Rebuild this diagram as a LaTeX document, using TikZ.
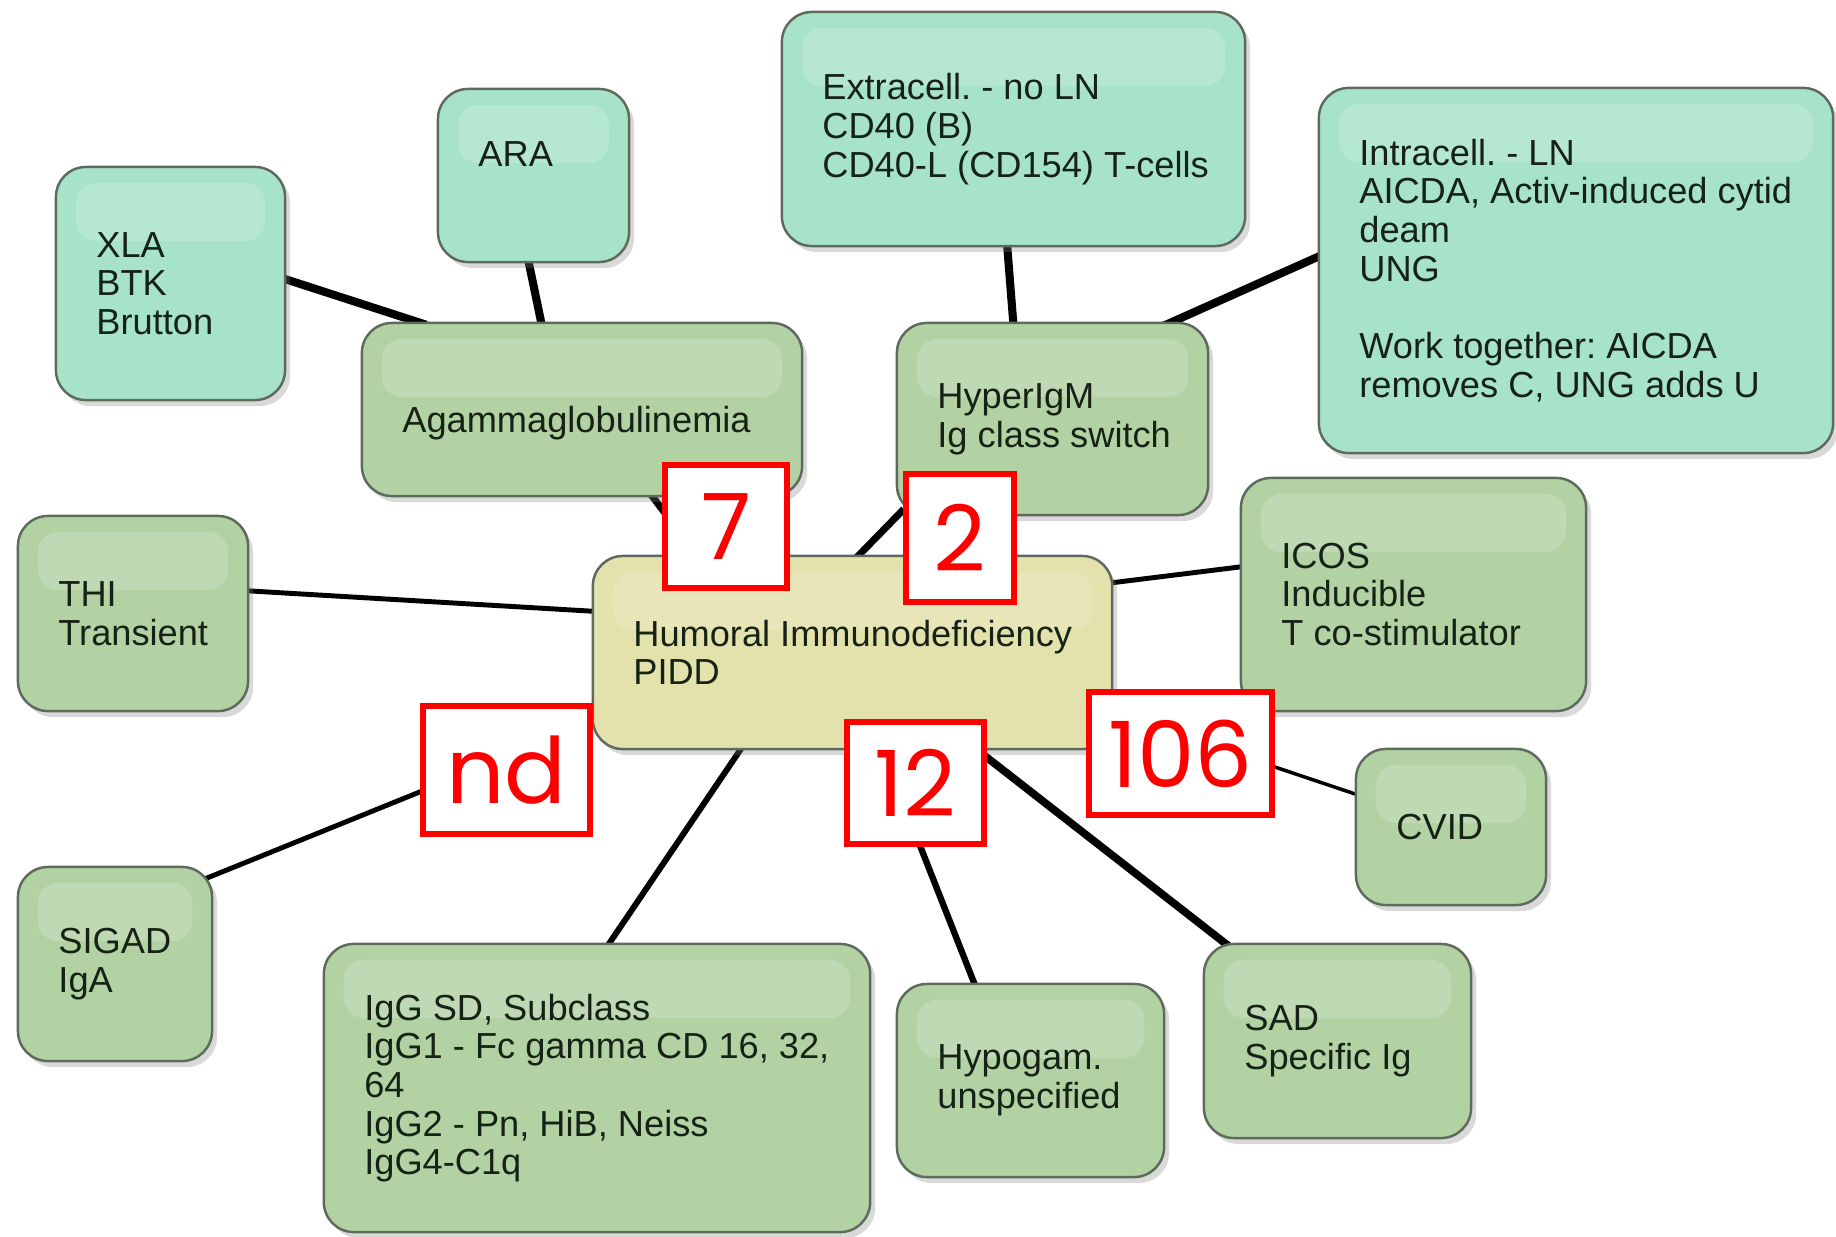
\documentclass[tikz,border=0pt]{standalone}
\usepackage{fontspec}
\setmainfont{Liberation Sans}
\newfontfamily\countfont{Poppins}
\usepackage{tikz}
\usetikzlibrary{positioning,shadows,backgrounds}
\frenchspacing

\definecolor{mapteal}{RGB}{166,227,201}
\definecolor{mapgreen}{RGB}{178,210,164}
\definecolor{mapyellow}{RGB}{228,226,172}
\definecolor{mapborder}{RGB}{94,106,94}
\definecolor{maptext}{RGB}{22,34,22}

\begin{document}
\begin{tikzpicture}[x=0.01cm,y=-0.01cm,
			every edge/.style={draw,black,shorten <=-0.1cm,shorten >=-0.1cm}]
			\tikzstyle{mapbox}=[draw=mapborder,line width=0.7pt,rounded corners=0.3cm,inner sep=0pt,
				drop shadow={shadow xshift=0.05cm,shadow yshift=-0.06cm,opacity=0.3},
				path picture={\fill[white,opacity=0.17,rounded corners=0.2cm]
					([xshift=0.2cm,yshift=-0.16cm]path picture bounding box.north west) rectangle
					([xshift=-0.2cm,yshift=-0.74cm]path picture bounding box.north east);}]
			\tikzstyle{tealbox}=[mapbox,fill=mapteal]
			\tikzstyle{greenbox}=[mapbox,fill=mapgreen]
			\tikzstyle{centerbox}=[mapbox,fill=mapyellow]
			\tikzstyle{every label}=[anchor=west,xshift=0.41cm,align=left,inner sep=0pt,text=maptext,
				font=\fontsize{10.3}{11}\selectfont]
			\tikzstyle{count}=[draw=red,line width=1.7pt,fill=white,text=red,inner sep=0pt,
				font=\countfont\fontsize{26}{26}\selectfont]
			
			\useasboundingbox (0,0) rectangle (1836,1236);
			
			\node[centerbox, minimum width=5.19cm, minimum height=1.93cm,
				label={west:Humoral Immunodeficiency\\PIDD}]    (PIDD) at (852.5,652.5) {};
			
			\node[greenbox, minimum width=4.40cm, minimum height=1.73cm,
				label={[yshift=-0.14cm]west:Agammaglobulinemia}]    (Agam) at (582,409.5) {};
			
			\node[tealbox, minimum width=2.29cm, minimum height=2.33cm,
				label={west:XLA\\BTK\\Brutton}]    (XLA) at (170.5,283.5) {};
			
			\node[tealbox, minimum width=1.91cm, minimum height=1.73cm,
				label={[yshift=0.21cm]west:ARA}]    (ARA) at (533.5,175.5) {};
			
			\node[greenbox, minimum width=3.11cm, minimum height=1.92cm,
				label={west:HyperIgM\\Ig class switch}]    (Hyper) at (1052.5,419) {};
			
			\node[tealbox, minimum width=4.63cm, minimum height=2.34cm,
				label={west:Extracell. - no LN\\CD40 (B)\\CD40-L (CD154) T-cells}]    (Extra) at (1013.5,129) {};
			
			\node[tealbox, minimum width=5.14cm, minimum height=3.65cm,
				label={west:Intracell. - LN\\AICDA, Activ-induced cytid\\deam\\UNG\\[11pt]Work together: AICDA\\removes C, UNG adds U}]    (Intra) at (1576,270.5) {};
			
			\node[greenbox, minimum width=2.30cm, minimum height=1.95cm,
				label={west:THI\\Transient}]    (THI) at (133,613.5) {};
			
			\node[greenbox, minimum width=3.45cm, minimum height=2.33cm,
				label={west:ICOS\\Inducible\\T co-stimulator}]    (ICOS) at (1413.5,594.5) {};
			
			\node[greenbox, minimum width=1.90cm, minimum height=1.56cm,
				label={west:CVID}]    (CVID) at (1451,827) {};
			
			\node[greenbox, minimum width=1.94cm, minimum height=1.94cm,
				label={west:SIGAD\\IgA}]    (SIGAD) at (115,964) {};
			
			\node[greenbox, minimum width=5.46cm, minimum height=2.88cm,
				label={west:IgG SD, Subclass\\IgG1 - Fc gamma CD 16, 32,\\64\\IgG2 - Pn, HiB, Neiss\\IgG4-C1q}]    (IgG) at (597,1088) {};
			
			\node[greenbox, minimum width=2.67cm, minimum height=1.93cm,
				label={west:Hypogam.\\unspecified}]    (Hypo) at (1030.5,1080.5) {};
			
			\node[greenbox, minimum width=2.67cm, minimum height=1.94cm,
				label={west:SAD\\Specific Ig}]    (SAD) at (1337.5,1041) {};
			
			\begin{scope}[on background layer]
			\path
			(XLA.2) edge[line width=2.3pt] (Agam.152)
			(ARA.267) edge[line width=2.3pt] (Agam.115)
			(Extra.267) edge[line width=2.3pt] (Hyper.112)
			(Intra.177) edge[line width=2.3pt] (Hyper.39)
			(Agam.309) edge[line width=2pt] (PIDD.148)
			(Hyper.212) edge[line width=2pt] (PIDD.86)
			(THI.11) edge[line width=1.4pt] (PIDD.171)
			(ICOS.171) edge[line width=1.4pt] (PIDD.15)
			(CVID.161) edge[line width=1pt] (PIDD.347)
			(SAD.139) edge[line width=2.2pt] (PIDD.322)
			(Hypo.120) edge[line width=1.8pt] (PIDD.287)
			(IgG.85) edge[line width=1.7pt] (PIDD.221)
			(SIGAD.42) edge[line width=1.4pt] (PIDD.195);
			\end{scope}
			
			\node[count, minimum width=1.22cm, minimum height=1.23cm]    (N7) at (726,526.5) {7};
			
			\node[count, minimum width=1.08cm, minimum height=1.28cm]    (N2) at (960,538) {2};
			
			\node[count, minimum width=1.67cm, minimum height=1.28cm]    (Nnd) at (506.5,770) {nd};
			
			\node[count, minimum width=1.37cm, minimum height=1.22cm]    (N12) at (915.5,783) {12};
			
			\node[count, minimum width=1.83cm, minimum height=1.23cm]    (N106) at (1180.5,753.5) {106};
			
			\end{tikzpicture}
\end{document}
